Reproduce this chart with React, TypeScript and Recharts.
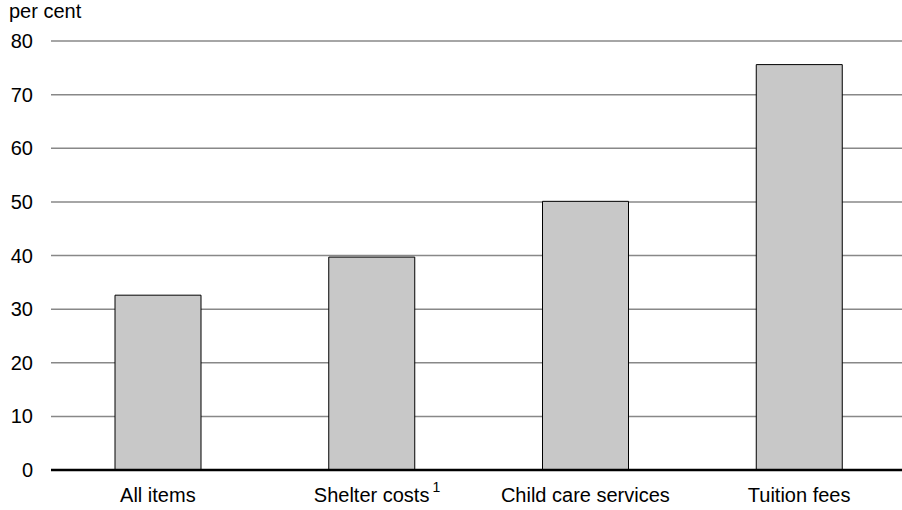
import React from 'react';
import { BarChart, Bar, XAxis, YAxis, CartesianGrid } from 'recharts';

const categories = ['All items', 'Shelter costs', 'Child care services', 'Tuition fees'];
const footnotes = ['', '1', '', ''];
const increases = [32.6, 39.7, 50.1, 75.6];
const yTicks = [0, 10, 20, 30, 40, 50, 60, 70, 80];

const data = categories.map((name, i) => ({ name, note: footnotes[i], value: increases[i] }));

const FONT = '"Liberation Sans", Arial, sans-serif';

const CategoryTick = (props: any) => {
  const { x, y, payload } = props;
  const note = footnotes[payload.index] || '';
  // approx half width of label in Liberation Sans 20px, to hang the footnote after it
  const half = String(payload.value).length * 4.45;
  return (
    <g>
      <text x={x} y={y + 24} textAnchor="middle" fontFamily={FONT} fontSize={20} fill="#000">
        {payload.value}
      </text>
      {note && (
        <text x={x + half + 3} y={y + 14} textAnchor="start" fontFamily={FONT} fontSize={14} fill="#000">
          {note}
        </text>
      )}
    </g>
  );
};

export default function App() {
  return (
    <div style={{ position: 'absolute', left: 0, top: 0, width: 902, height: 510, overflow: 'hidden', background: '#fff' }}>
      <div
        style={{ position: 'absolute', left: 9, top: 0, fontFamily: FONT, fontSize: 20, color: '#000', lineHeight: 'normal' }}
      >
        per cent
      </div>
      <BarChart
        width={906}
        height={510}
        data={data}
        margin={{ top: 41, right: 0, left: 0, bottom: 0 }}
      >
        <CartesianGrid horizontal vertical={false} stroke="#888" strokeWidth={1.5} />
        <XAxis
          dataKey="name"
          height={40}
          axisLine={{ stroke: '#000', strokeWidth: 2.5 }}
          tickLine={false}
          tick={<CategoryTick />}
          interval={0}
        />
        <YAxis
          width={51}
          domain={[0, 80]}
          ticks={yTicks}
          axisLine={false}
          tickLine={false}
          tickSize={0}
          tickMargin={18}
          tick={{ fontFamily: FONT, fontSize: 20, fill: '#000' }}
        />
        <Bar
          dataKey="value"
          fill="#c8c8c8"
          stroke="#000"
          strokeWidth={1}
          barSize={86}
          isAnimationActive={false}
        />
      </BarChart>
    </div>
  );
}
